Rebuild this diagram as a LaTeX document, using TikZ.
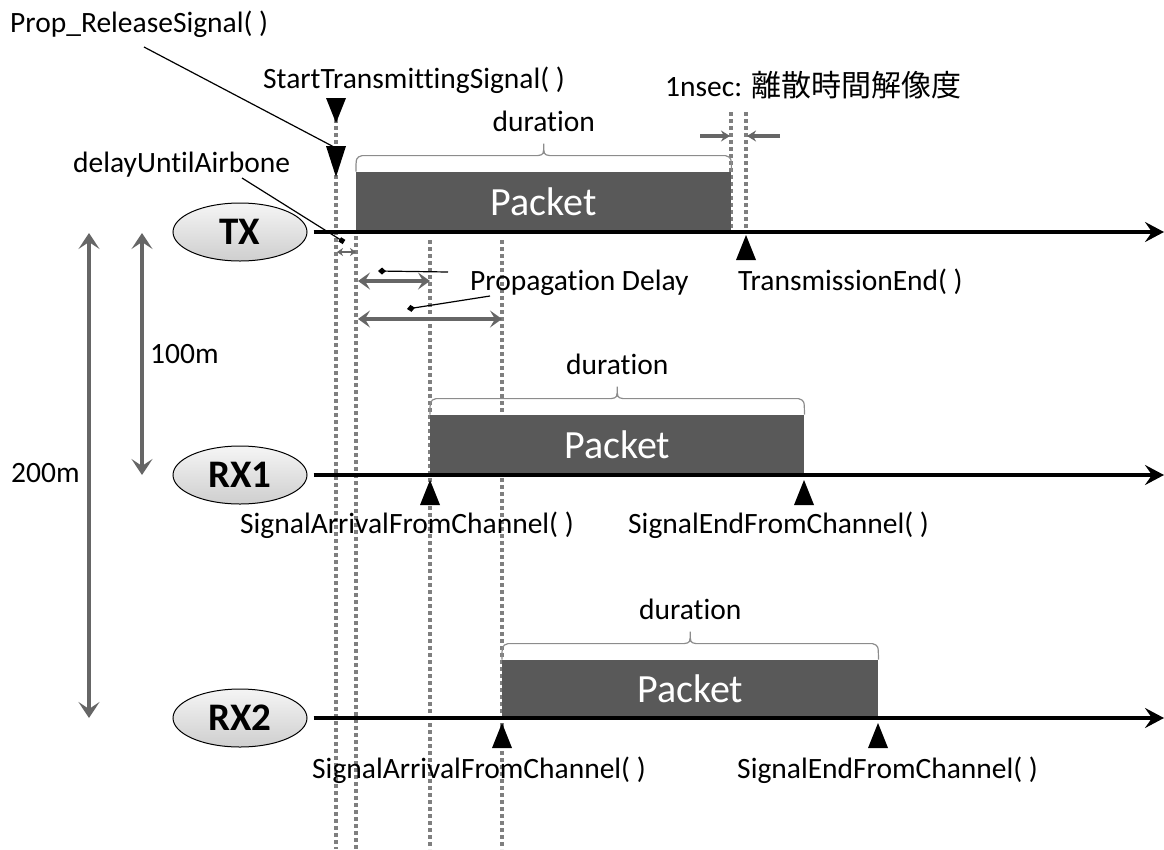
\documentclass[tikz,border=0pt]{standalone}
\usepackage{fontspec}
\setmainfont[Ligatures={NoCommon}]{Carlito}
\newfontfamily\cjkfont{Noto Sans CJK JP}
\usetikzlibrary{arrows.meta,calc,shapes.geometric}
\definecolor{pktgray}{HTML}{595959}
\definecolor{dotgray}{HTML}{7F7F7F}
\definecolor{arrgray}{HTML}{666666}
\definecolor{brgray}{HTML}{8C8C8C}

% brace above a packet node, tip pointing up
\newcommand\durationbrace[1]{%
  \draw[durbrace] let \p1=(#1.north west), \p2=(#1.north east), \n1={0.5*(\x1+\x2)} in
    (\p1) .. controls (\x1,\y1+14pt) .. (\x1+6pt,\y1+16pt) -- (\n1-6pt,\y1+16pt)
    .. controls (\n1,\y1+17pt) .. (\n1,\y1+28pt)
    .. controls (\n1,\y1+17pt) .. (\n1+6pt,\y1+16pt) -- (\x2-6pt,\y1+16pt)
    .. controls (\x2,\y1+14pt) .. (\p2);
  \node[lbl,anchor=base] (#1dur) at ($(#1.north)+(0,-40)$) {duration};
}
% event markers
\newcommand\upmarker[2]{\fill (#1-10,#2+25) -- (#1+10,#2+25) -- (#1,#2) -- cycle;}
\newcommand\downmarker[3]{\fill (#1-10,#2) -- (#1+10,#2) -- (#1,#2+#3) -- cycle;}

\begin{document}
\begin{tikzpicture}[x=1pt,y=-1pt,
  lbl/.style={font=\fontsize{29.5}{31}\selectfont, inner sep=0pt, anchor=base west},
  pkt/.style={fill=pktgray, text=white, font=\fontsize{40}{42}\selectfont,
    inner sep=0pt, anchor=south west, minimum height=60pt},
  station/.style={ellipse, draw=black, line width=1pt, top color=gray!8,
    bottom color=gray!38, minimum width=134pt, minimum height=58pt,
    font=\bfseries\fontsize{39}{41}\selectfont, inner sep=0pt},
  timeline/.style={line width=3.5pt, -{Stealth[length=19pt,width=20pt,inset=7pt]}},
  tick/.style={draw=dotgray, line width=3.5pt, dash pattern=on 4pt off 3pt},
  span/.style={draw=arrgray, line width=4pt,
    {Stealth[length=12pt,width=17pt,inset=5pt]}-{Stealth[length=12pt,width=17pt,inset=5pt]}},
  distspan/.style={draw=arrgray, line width=4.5pt,
    {Stealth[length=16pt,width=21pt,inset=7pt]}-{Stealth[length=16pt,width=21pt,inset=7pt]}},
  halfspan/.style={draw=arrgray, line width=3.5pt, -{Stealth[length=9pt,width=11pt,inset=3pt]}},
  leader/.style={draw=black, line width=1.2pt},
  durbrace/.style={draw=brgray, line width=1.2pt},
]
\useasboundingbox (0,0) rectangle (1164,849);

% time instants (dotted guides)
\draw[tick] (336,98) -- (336,849);
\draw[tick] (356,236) -- (356,849);
\draw[tick] (430,240) -- (430,849);
\draw[tick] (502,240) -- (502,849);
\draw[tick] (731,112) -- (731,232);
\draw[tick] (746,112) -- (746,232);

% stations
\node[station] (tx)  at (240,232) {TX};
\node[station] (rx1) at (240,475) {RX1};
\node[station] (rx2) at (240,718) {RX2};

% packets
\node[pkt, minimum width=375pt] (pk1) at (356,232) {Packet};
\node[pkt, minimum width=374pt] (pk2) at (430,475) {Packet};
\node[pkt, minimum width=376pt, minimum height=58pt] (pk3) at (502,718) {Packet};

% time axes
\coordinate (axend) at (1164,0);
\draw[timeline] ([xshift=6pt]tx.east)  -- (tx.east  -| axend);
\draw[timeline] ([xshift=6pt]rx1.east) -- (rx1.east -| axend);
\draw[timeline] ([xshift=6pt]rx2.east) -- (rx2.east -| axend);

% durations
\durationbrace{pk1}
\durationbrace{pk2}
\durationbrace{pk3}

% event markers
\downmarker{336}{98}{25}
\downmarker{336}{146}{31}
\upmarker{746}{235}
\upmarker{430}{480}
\upmarker{804}{480}
\upmarker{502}{723}
\upmarker{878}{723}

% labels
\node[lbl] (lrel)   at (10,32)   {Prop\_ReleaseSignal( )};
\node[lbl] (lstart) at (263,88)  {StartTransmittingSignal( )};
\node[lbl] (ldelay) at (73,172)  {delayUntilAirbone};
\node[lbl] (lres)   at (665,96)  {1nsec: {\cjkfont\fontsize{30}{32}\selectfont 離散時間解像度}};
\node[lbl] (lend)   at (738,290) {TransmissionEnd( )};
\node[lbl] (lprop)  at (470,290) {Propagation Delay};
\node[lbl] (l100)   at (150,363) {100m};
\node[lbl] (l200)   at (11,482)  {200m};
\node[lbl] (la1)    at (240,533) {SignalArrivalFromChannel( )};
\node[lbl] (le1)    at (628,533) {SignalEndFromChannel( )};
\node[lbl] (la2)    at (312,778) {SignalArrivalFromChannel( )};
\node[lbl] (le2)    at (737,778) {SignalEndFromChannel( )};

% leaders
\coordinate (relfoot) at (144,47);
\coordinate (reltip) at (334,147);
\draw[leader] (relfoot) -- (reltip);
\coordinate (delfoot) at (242,178);
\coordinate (deltip) at (344,242);
\draw[leader, -{Square[length=5pt,width=5pt]}] (delfoot) -- (deltip);
\coordinate (pf1) at (448,272);
\coordinate (pt1) at (378,271);
\coordinate (pf2) at (490,296);
\coordinate (pt2) at (407,309);
\draw[leader, -{Diamond[length=8pt,width=7pt]}] (pf1) -- (pt1);
\draw[leader, -{Diamond[length=8pt,width=7pt]}] (pf2) -- (pt2);

% spans
\draw[draw=arrgray, line width=2.5pt,
  {Stealth[length=6pt,width=8pt]}-{Stealth[length=6pt,width=8pt]}] (337,252) -- (356,252);
\draw[span] (358,281) -- (430,281);
\draw[span] (358,319) -- (502,319);
\draw[distspan] (142,233) -- (142,475);
\draw[distspan] (89,233) -- (89,718);

% resolution markers
\draw[halfspan] (700,136) -- (730,136);
\draw[halfspan] (780,136) -- (747,136);
\end{tikzpicture}
\end{document}
